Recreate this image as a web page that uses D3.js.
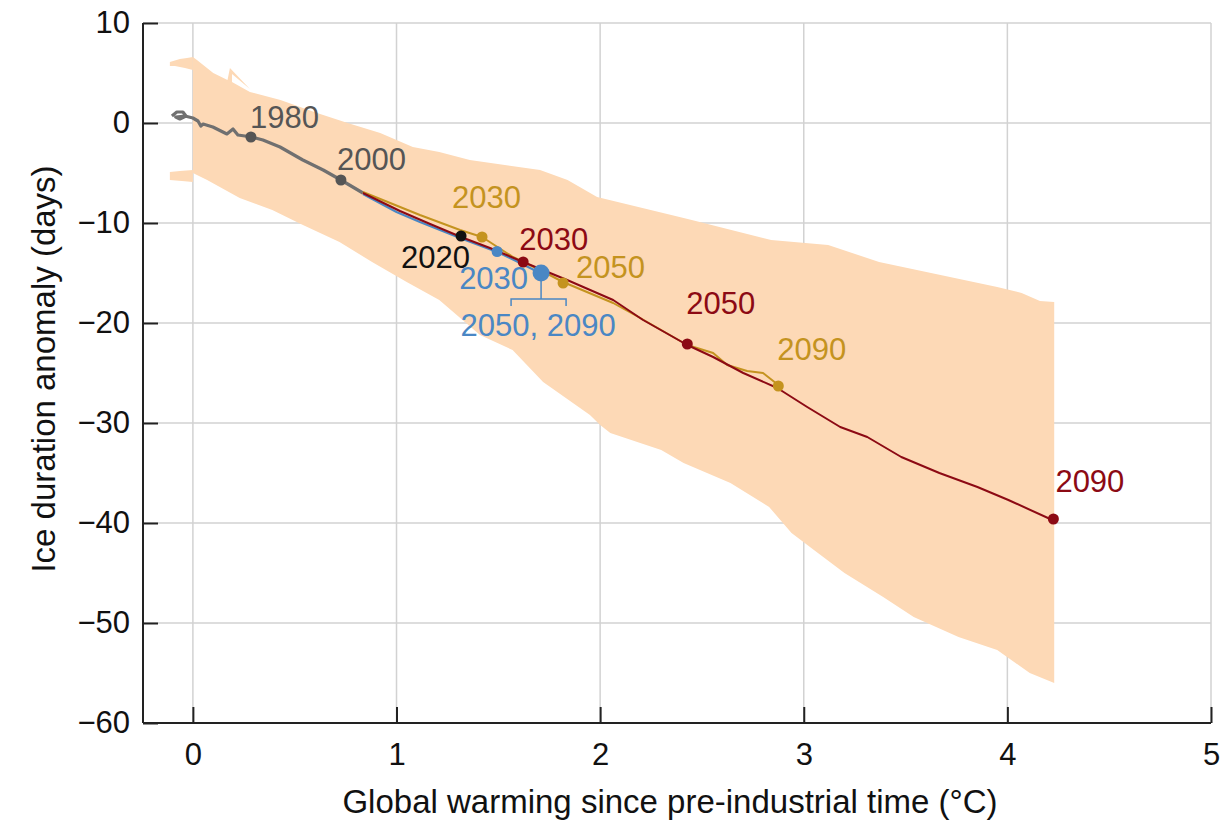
<!DOCTYPE html>
<html>
<head>
<meta charset="utf-8">
<script src="https://cdn.jsdelivr.net/npm/d3@7"></script>
<style>
	body { margin: 0; background: #fff; }
	text { font-family: "Liberation Sans", Arial, sans-serif; }
</style>
</head>
<body>
<div id="chart"></div>
<script>
// tick values
var xTicks = [0, 1, 2, 3, 4, 5];
var yTicks = [10, 0, -10, -20, -30, -40, -50, -60];

// model spread (upper / lower envelope), [warming, anomaly]
var bandUpper = [[0,6.6],[0.02,6.3],[0.1,5.0],[0.17,4.3],[0.182,5.5],[0.28,3.4],[0.192,4.9],[0.192,4.1],[0.28,3.1],[0.43,2.3],[0.61,1.0],[0.76,0.0],[0.92,-1.0],[1.08,-2.4],[1.21,-2.9],[1.36,-3.7],[1.705,-4.7],[1.84,-5.7],[1.985,-7.4],[2.39,-9.4],[2.45,-9.7],[2.84,-11.7],[3.12,-12.2],[3.37,-13.9],[3.95,-16.4],[4.07,-17.0],[4.16,-17.8],[4.23,-17.9]];
var bandLower = [[0,-5.0],[0.07,-5.7],[0.23,-7.5],[0.39,-8.7],[0.53,-10.1],[0.72,-11.9],[0.88,-13.9],[1.05,-15.9],[1.21,-17.7],[1.41,-21.2],[1.57,-22.7],[1.72,-25.9],[1.95,-29.2],[2.0,-30.2],[2.05,-31.0],[2.3,-32.7],[2.41,-34.0],[2.64,-36.0],[2.83,-38.4],[2.94,-41.0],[3.05,-42.7],[3.2,-45.0],[3.39,-47.4],[3.54,-49.4],[3.76,-51.4],[3.95,-52.7],[4.11,-55.0],[4.23,-56.0]];
var bandTopSliver = [[-0.113,6.1],[-0.064,6.4],[-0.029,6.5],[0,6.6],[0,5.3],[-0.039,5.5],[-0.088,5.7],[-0.113,5.7]];
var bandBottomSliver = [[-0.113,-4.9],[-0.064,-4.8],[0,-4.7],[0,-5.9],[-0.054,-5.8],[-0.113,-5.7]];

// observed / historical run
var histLine = [[-0.103,0.7],[-0.079,1.1],[-0.049,1.1],[-0.034,0.7],[-0.064,0.4],[-0.084,0.6],[-0.039,0.7],[0,0.5],[0.025,0.2],[0.039,-0.3],[0.05,-0.1],[0.098,-0.4],[0.167,-1.1],[0.197,-0.6],[0.221,-1.2],[0.29,-1.4],[0.344,-1.7],[0.428,-2.4],[0.54,-3.7],[0.64,-4.7],[0.727,-5.7],[0.835,-7.0]];

// scenarios
var rcp26Line = [[0.835,-7.1],[1.0,-8.9],[1.115,-9.9],[1.312,-11.5],[1.494,-12.9],[1.607,-14.0],[1.705,-15.0]];
var rcp45Line = [[0.835,-6.9],[1.115,-9.2],[1.312,-10.7],[1.42,-11.4],[1.572,-13.4],[1.705,-14.7],[1.818,-15.9],[2.064,-18.0],[2.197,-19.5],[2.428,-22.2],[2.555,-23.0],[2.624,-24.2],[2.722,-24.8],[2.8,-25.0],[2.875,-26.2]];
var rcp85Line = [[0.835,-7.0],[1.017,-8.8],[1.165,-10.1],[1.317,-11.4],[1.459,-12.5],[1.622,-13.9],[1.838,-15.7],[2.064,-17.7],[2.211,-19.7],[2.428,-22.2],[2.555,-23.4],[2.703,-25.0],[2.87,-26.5],[3.017,-28.4],[3.179,-30.4],[3.312,-31.4],[3.479,-33.4],[3.666,-35.0],[3.853,-36.4],[4.005,-37.7],[4.221,-39.7]];

// year markers
var dotYears  = ['1980','2000','2020','2030','2030','2030','2050, 2090','2050','2050','2090','2090'];
var dotSeries = ['hist','hist','obs','rcp45','rcp26','rcp85','rcp26','rcp45','rcp85','rcp45','rcp85'];
var dotX = [0.285, 0.727, 1.317, 1.42, 1.494, 1.622, 1.71, 1.818, 2.428, 2.875, 4.226];
var dotY = [-1.4, -5.7, -11.3, -11.4, -12.85, -13.9, -15.0, -16.0, -22.1, -26.3, -39.6];

var params = {
	width: 1223, height: 833,
	margin: {left: 143, top: 23},
	plotWidth: 1068, plotHeight: 700,
	bandColor: '#fdd9b6',
	gridColor: '#d2d2d2',
	labelSize: 31,
	tickSize: 31,
	titleSize: 33,
	colors: {hist: '#555555', obs: '#111111', rcp26: '#4a87c4', rcp45: '#c4931f', rcp85: '#8c0a14'},
	lineColors: {hist: '#707070', rcp26: '#4a87c4', rcp45: '#c4931f', rcp85: '#8c0a14'}
};

// label placement relative to each dot (px): dx, dy, anchor
var labelPos = [
	[-1, -9, 'start'], [-4, -10, 'start'], [9, 32, 'end'], [-30, -29, 'start'], [31, 37, 'end'],
	[-4, -12, 'start'], [-3, 63, 'middle'], [13, -5, 'start'], [-1, -30, 'start'], [-1, -26, 'start'], [2, -27, 'start']
];

var svg = d3.select('#chart').append('svg')
	.attr('width', params.width)
	.attr('height', params.height);

var g = svg.append('g')
	.attr('transform', 'translate(' + params.margin.left + ',' + params.margin.top + ')');

var x = d3.scaleLinear().domain([-0.245, 5]).range([0, params.plotWidth]);
var y = d3.scaleLinear().domain([-60, 10]).range([params.plotHeight, 0]);

var fmt = function(d){ return d < 0 ? '\u2212' + Math.abs(d) : '' + d; };

// grid
g.selectAll('.vgrid').data(xTicks).enter().append('line')
	.attr('x1', function(d){ return x(d); }).attr('x2', function(d){ return x(d); })
	.attr('y1', 0).attr('y2', params.plotHeight)
	.attr('stroke', params.gridColor).attr('stroke-width', 1.5);
g.selectAll('.hgrid').data(yTicks).enter().append('line')
	.attr('x1', 0).attr('x2', x(5))
	.attr('y1', function(d){ return y(d); }).attr('y2', function(d){ return y(d); })
	.attr('stroke', params.gridColor).attr('stroke-width', 1.5);

// spread band
var line = d3.line().x(function(d){ return x(d[0]); }).y(function(d){ return y(d[1]); });
g.append('path')
	.attr('d', line(bandUpper.concat(bandLower.slice().reverse())) + 'Z')
	.attr('fill', params.bandColor);
[bandTopSliver, bandBottomSliver].forEach(function(s){
	g.append('path').attr('d', line(s) + 'Z').attr('fill', params.bandColor);
});

// lines
g.append('path').attr('d', line(histLine)).attr('fill', 'none')
	.attr('stroke', params.lineColors.hist).attr('stroke-width', 3.2).attr('stroke-linejoin', 'round');
[['rcp45', rcp45Line], ['rcp26', rcp26Line], ['rcp85', rcp85Line]].forEach(function(s){
	g.append('path').attr('d', line(s[1])).attr('fill', 'none')
		.attr('stroke', params.lineColors[s[0]]).attr('stroke-width', 2).attr('stroke-linejoin', 'round');
});

// bracket under the stabilised RCP2.6 point
var bx = x(dotX[6]), by = y(dotY[6]);
g.append('path')
	.attr('d', 'M' + bx + ',' + (by + 6) + 'V' + (by + 26) + 'M' + (bx - 30) + ',' + (by + 33) + 'V' + (by + 26) + 'H' + (bx + 25) + 'V' + (by + 33))
	.attr('fill', 'none').attr('stroke', params.colors.rcp26).attr('stroke-width', 1.5);

// dots
g.selectAll('.dot').data(dotX).enter().append('circle')
	.attr('cx', function(d){ return x(d); })
	.attr('cy', function(d, i){ return y(dotY[i]); })
	.attr('r', function(d, i){ return i == 6 ? 8.5 : 5.5; })
	.attr('fill', function(d, i){ return params.colors[dotSeries[i]]; });

// year labels
g.selectAll('.lab').data(dotYears).enter().append('text')
	.attr('x', function(d, i){ return x(dotX[i]) + labelPos[i][0]; })
	.attr('y', function(d, i){ return y(dotY[i]) + labelPos[i][1]; })
	.attr('text-anchor', function(d, i){ return labelPos[i][2]; })
	.attr('font-size', params.labelSize)
	.attr('fill', function(d, i){ return params.colors[dotSeries[i]]; })
	.text(function(d){ return d; });

// axes
var xAxis = g.append('g')
	.attr('transform', 'translate(0,' + params.plotHeight + ')')
	.call(d3.axisBottom(x).tickValues(xTicks).tickSize(-16).tickPadding(20).tickFormat(fmt));
var yAxis = g.append('g')
	.call(d3.axisLeft(y).tickValues(yTicks).tickSize(-15).tickPadding(13).tickFormat(fmt));
[xAxis, yAxis].forEach(function(a){
	a.select('.domain').attr('stroke', '#222').attr('stroke-width', 2);
	a.selectAll('.tick line').attr('stroke', '#222').attr('stroke-width', 2);
	a.selectAll('.tick text').attr('font-size', params.tickSize).attr('fill', '#111')
		.style('font-family', '"Liberation Sans", Arial, sans-serif');
});
xAxis.select('.domain').attr('d', 'M0,0H' + x(5));
yAxis.select('.domain').attr('d', 'M0,0V' + params.plotHeight);

// axis titles
svg.append('text')
	.attr('x', 670).attr('y', 813)
	.attr('text-anchor', 'middle')
	.attr('font-size', params.titleSize).attr('fill', '#111')
	.text('Global warming since pre-industrial time (\u00b0C)');
svg.append('text')
	.attr('transform', 'translate(55,369) rotate(-90)')
	.attr('text-anchor', 'middle')
	.attr('font-size', params.titleSize).attr('fill', '#111')
	.text('Ice duration anomaly (days)');
</script>
</body>
</html>
